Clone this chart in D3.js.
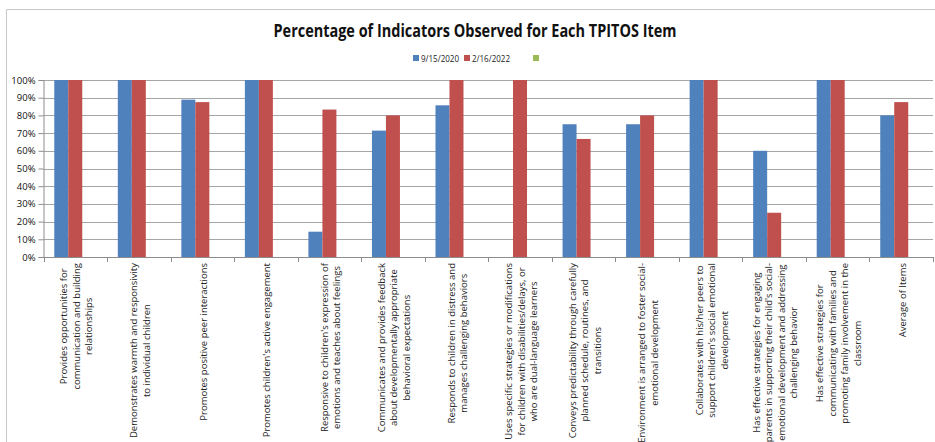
<!DOCTYPE html>
<meta charset="utf-8">
<head>
  <title>TPITOS Item Chart</title>
  <style>
    body { margin: 0; background: #fff; }
    text { font-family: "Open Sans", "Liberation Sans", sans-serif; }
  </style>
</head>
<body>
  <script src="https://d3js.org/d3.v7.min.js"></script>
  <div id="chart"></div>
  <script>

    // chart data
    var categories = [
      ["Provides opportunities for", "communication and building", "relationships"],
      ["Demonstrates warmth and responsivity", "to individual children"],
      ["Promotes positive peer interactions"],
      ["Promotes children's active engagement"],
      ["Responsive to children's expression of", "emotions and teaches about feelings"],
      ["Communicates and provides feedback", "about developmentally appropriate", "behavioral expectations"],
      ["Responds to children in distress and", "manages challenging behaviors"],
      ["Uses specific strategies or modifications", "for children with disabilities/delays, or", "who are dual-language learners"],
      ["Conveys predictability through carefully", "planned schedule, routines, and", "transitions"],
      ["Environment is arranged to foster social-", "emotional development"],
      ["Collaborates with his/her peers to", "support children's social emotional", "development"],
      ["Has effective strategies for engaging", "parents in supporting their child's social-", "emotional development and addressing", "challenging behavior"],
      ["Has effective strategies for", "communicating with families and", "promoting family involvement in the", "classroom"],
      ["Average of Items"]
    ];
    var seriesNames = ["9/15/2020", "2/16/2022", ""];
    var seriesColors = ["#4F81BD", "#C0504D", "#9BBB59"];
    var values2020 = [100, 100, 88.9, 100, 14.3, 71.4, 85.7, null, 75, 75, 100, 60, 100, 80];
    var values2022 = [100, 100, 87.5, 100, 83.3, 80, 100, 100, 66.7, 80, 100, 25, 100, 87.5];
    var values3 = [null, null, null, null, null, null, null, null, null, null, null, null, null, null];
    var yTicks = [0, 10, 20, 30, 40, 50, 60, 70, 80, 90, 100];

    var allSeries = [values2020, values2022, values3];

    var W = 935, H = 442;
    var plot = {left: 43.5, right: 933, top: 80, bottom: 257};

    var svg = d3.select("#chart").append("svg")
      .attr("width", W).attr("height", H);

    // outer frame
    svg.append("path")
      .attr("d", "M6.5," + H + "V9.5H" + W)
      .attr("fill", "none").attr("stroke", "#c8c8c8");

    // title
    svg.append("text")
      .attr("x", 475).attr("y", 37)
      .attr("text-anchor", "middle")
      .attr("font-size", 17).attr("font-weight", "bold")
      .attr("fill", "#111")
      .attr("textLength", 403).attr("lengthAdjust", "spacingAndGlyphs")
      .text("Percentage of Indicators Observed for Each TPITOS Item");

    // legend
    var legendX = [413, 464, 533];
    var legend = svg.append("g");
    seriesNames.forEach(function(name, i) {
      legend.append("rect")
        .attr("x", legendX[i]).attr("y", 55)
        .attr("width", 6).attr("height", 6)
        .attr("fill", seriesColors[i]);
      if (name) {
        legend.append("text")
          .attr("x", legendX[i] + 8).attr("y", 61.5)
          .attr("font-size", 8.5).attr("fill", "#222")
          .attr("textLength", 38).attr("lengthAdjust", "spacingAndGlyphs")
          .text(name);
      }
    });

    // scales
    var x0 = d3.scaleBand()
      .domain(d3.range(categories.length))
      .range([plot.left, plot.right])
      .padding(0);
    var x1 = d3.scaleBand()
      .domain(d3.range(seriesNames.length))
      .range([0, x0.bandwidth()])
      .paddingInner(0)
      .paddingOuter(0.77);
    var y = d3.scaleLinear().domain([0, 100]).range([plot.bottom, plot.top]);

    // gridlines
    svg.append("g")
      .selectAll("line")
      .data(yTicks.filter(function(d) { return d > 0; }))
      .join("line")
        .attr("x1", plot.left).attr("x2", plot.right)
        .attr("y1", function(d) { return Math.round(y(d)) + 0.5; })
        .attr("y2", function(d) { return Math.round(y(d)) + 0.5; })
        .attr("stroke", "#a6a6a6");

    // y axis
    var yAxis = svg.append("g")
      .attr("transform", "translate(" + plot.left + ",0)")
      .call(d3.axisLeft(y).tickValues(yTicks).tickSize(5).tickPadding(3)
        .tickFormat(function(d) { return d + "%"; }));
    yAxis.select(".domain").attr("stroke", "#8c8c8c");
    yAxis.selectAll(".tick line").attr("stroke", "#8c8c8c");
    yAxis.selectAll("text")
      .attr("font-size", 9.5).attr("fill", "#111")
      .style("font-family", "'Open Sans', sans-serif");

    // bars
    allSeries.forEach(function(vals, s) {
      svg.append("g")
        .selectAll("rect")
        .data(vals.map(function(v, i) { return {i: i, v: v}; }).filter(function(d) { return d.v != null; }))
        .join("rect")
          .attr("x", function(d) { return x0(d.i) + x1(s); })
          .attr("width", x1.bandwidth())
          .attr("y", function(d) { return y(d.v); })
          .attr("height", function(d) { return y(0) - y(d.v); })
          .attr("fill", seriesColors[s]);
    });

    // x axis line and ticks at category boundaries
    var xAxisG = svg.append("g");
    xAxisG.append("line")
      .attr("x1", plot.left).attr("x2", plot.right)
      .attr("y1", plot.bottom + 0.5).attr("y2", plot.bottom + 0.5)
      .attr("stroke", "#8c8c8c");
    xAxisG.selectAll(".xt")
      .data(d3.range(categories.length + 1))
      .join("line")
        .attr("class", "xt")
        .attr("x1", function(d) { return Math.round(plot.left + d * x0.step()) + 0.5; })
        .attr("x2", function(d) { return Math.round(plot.left + d * x0.step()) + 0.5; })
        .attr("y1", plot.bottom).attr("y2", plot.bottom + 5)
        .attr("stroke", "#8c8c8c");

    // rotated category labels
    var lineH = 12.5;
    categories.forEach(function(lines, i) {
      var cx = x0(i) + x0.bandwidth() / 2 + 1;
      var g = svg.append("g")
        .attr("transform", "translate(" + cx + "," + (plot.bottom + 6) + ") rotate(-90)");
      var t = g.selectAll("text")
        .data(lines)
        .join("text")
          .attr("font-size", 9.5).attr("fill", "#222")
          .attr("text-anchor", "middle")
          .attr("dominant-baseline", "central")
          .attr("y", function(d, k) { return (k - (lines.length - 1) / 2) * lineH; })
          .text(function(d) { return d; });
      var maxW = d3.max(t.nodes(), function(n) { return n.getComputedTextLength(); });
      t.attr("x", -maxW / 2);
    });

  </script>
</body>
